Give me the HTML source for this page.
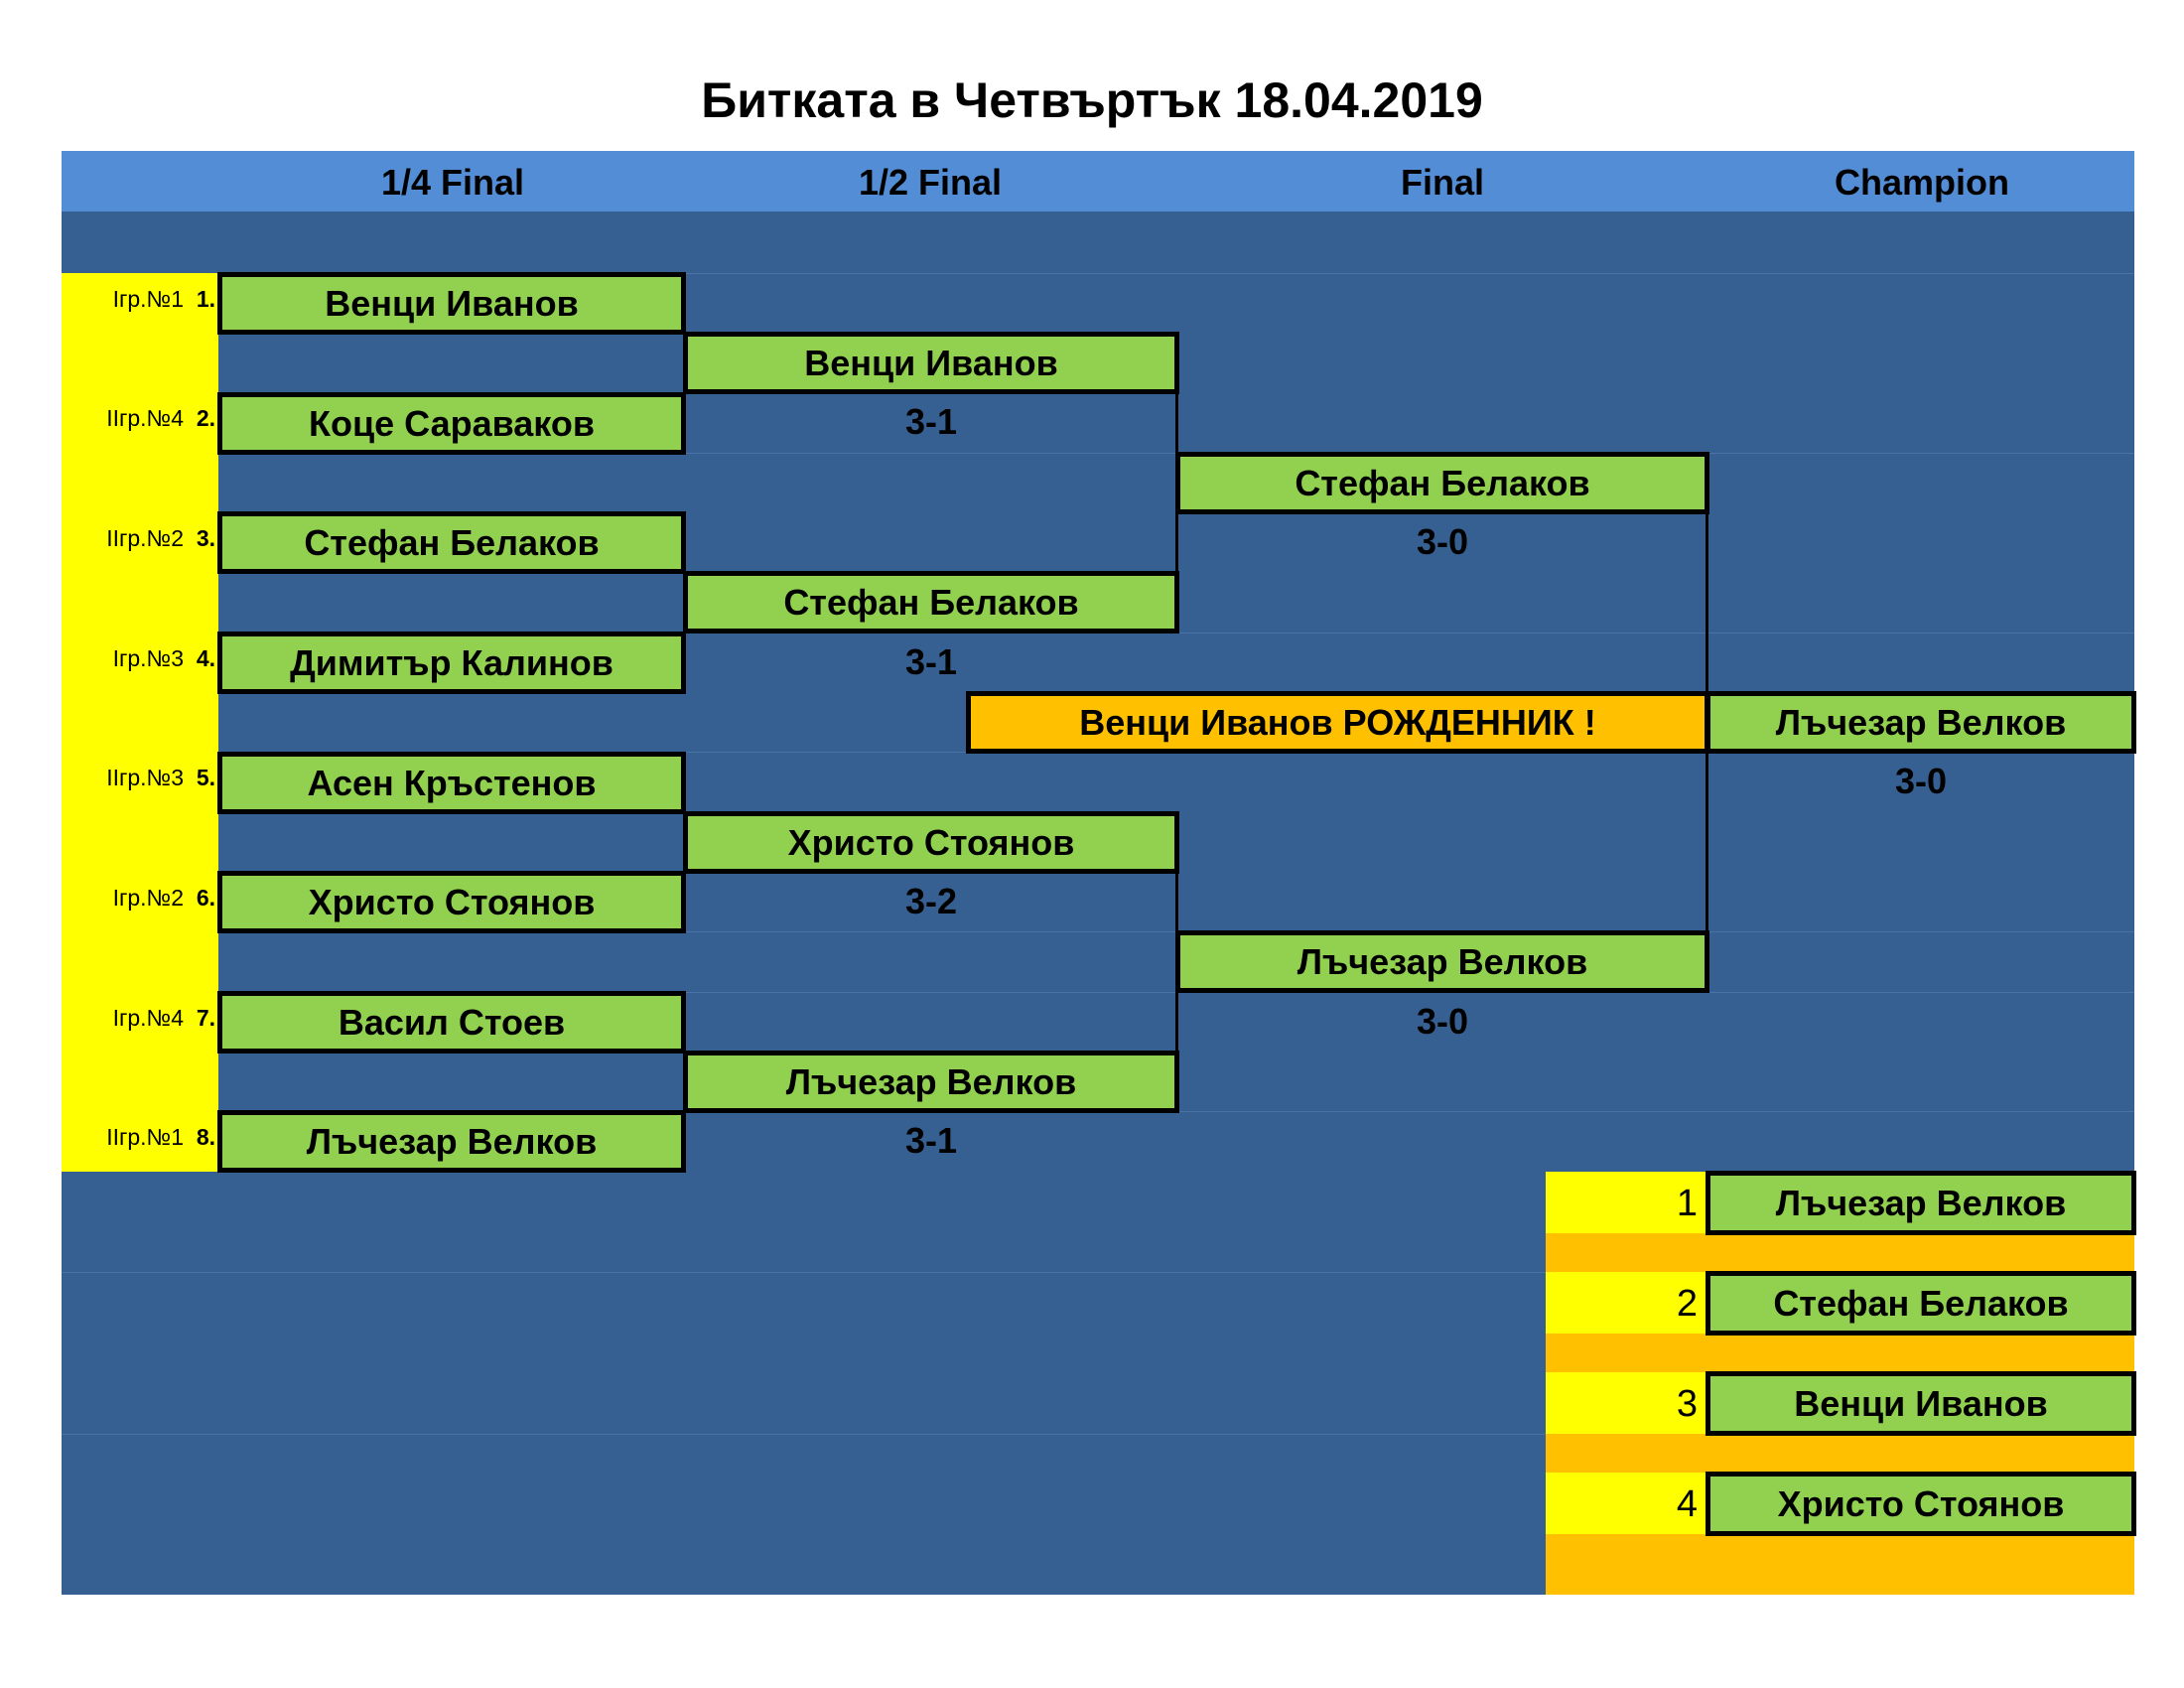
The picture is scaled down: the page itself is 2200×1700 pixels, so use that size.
<!DOCTYPE html>
<html><head><meta charset="utf-8"><style>
body{margin:0;width:2200px;height:1700px;background:#fff;position:relative;overflow:hidden;font-family:"Liberation Sans","DejaVu Sans",sans-serif}
div{position:absolute;box-sizing:border-box}
.t{left:0;width:2200px;top:72px;text-align:center;font-size:50px;font-weight:bold;color:#000}
.hb{left:62px;width:2088px;top:152px;height:61px;background:#538dd5}
.h{top:152px;height:61px;line-height:64px;font-size:36px;font-weight:bold;text-align:center;width:400px}
.bb{left:62px;width:2088px;top:213px;height:1393px;background:#366092}
.y{background:#ffff00}.o{background:#ffc000}
.b{background:#92d050;border:5px solid #000;height:63px;font-size:36px;font-weight:bold;text-align:center;line-height:53px;white-space:nowrap}
.s{font-size:36px;font-weight:bold;text-align:center;height:60px;line-height:60px}
.l{font-size:23px;text-align:right;width:155px;left:62px;height:60px;line-height:52px;white-space:nowrap}
.l b{font-weight:bold}
.v{background:#000;width:3px}
.n{font-size:38px;text-align:right;width:150px;left:1560px;height:62px;line-height:64px}
.g{left:62px;width:2088px;height:1px;background:#4a72a4}
</style></head><body>
<div class="t">Битката в Четвъртък 18.04.2019</div>
<div class="hb"></div>
<div class="h" style="left:256px">1/4 Final</div>
<div class="h" style="left:737px">1/2 Final</div>
<div class="h" style="left:1253px">Final</div>
<div class="h" style="left:1736px">Champion</div>
<div class="bb"></div>
<div class="g" style="top:275px"></div>
<div class="g" style="top:456px"></div>
<div class="g" style="top:637px"></div>
<div class="g" style="top:757px"></div>
<div class="g" style="top:938px"></div>
<div class="g" style="top:999px"></div>
<div class="g" style="top:1119px"></div>
<div class="g" style="top:1281px;width:1495px"></div>
<div class="g" style="top:1444px;width:1495px"></div>
<div class="y" style="left:62px;top:275px;width:158px;height:905px"></div>

<div class="l" style="top:275px">Iгр.№1&nbsp; <b>1.</b></div>
<div class="l" style="top:395px">IIгр.№4&nbsp; <b>2.</b></div>
<div class="l" style="top:516px">IIгр.№2&nbsp; <b>3.</b></div>
<div class="l" style="top:637px">Iгр.№3&nbsp; <b>4.</b></div>
<div class="l" style="top:757px">IIгр.№3&nbsp; <b>5.</b></div>
<div class="l" style="top:878px">Iгр.№2&nbsp; <b>6.</b></div>
<div class="l" style="top:999px">Iгр.№4&nbsp; <b>7.</b></div>
<div class="l" style="top:1119px">IIгр.№1&nbsp; <b>8.</b></div>

<div class="b" style="left:219px;width:472px;top:274px">Венци Иванов</div>
<div class="b" style="left:219px;width:472px;top:395px">Коце Сараваков</div>
<div class="b" style="left:219px;width:472px;top:515px">Стефан Белаков</div>
<div class="b" style="left:219px;width:472px;top:636px">Димитър Калинов</div>
<div class="b" style="left:219px;width:472px;top:757px">Асен Кръстенов</div>
<div class="b" style="left:219px;width:472px;top:877px">Христо Стоянов</div>
<div class="b" style="left:219px;width:472px;top:998px">Васил Стоев</div>
<div class="b" style="left:219px;width:472px;top:1118px">Лъчезар Велков</div>

<div class="v" style="left:1184px;top:395px;height:182px"></div>
<div class="v" style="left:1184px;top:878px;height:182px"></div>
<div class="v" style="left:1718px;top:516px;height:182px"></div>
<div class="v" style="left:1718px;top:757px;height:182px"></div>

<div class="b" style="left:688px;width:500px;top:334px">Венци Иванов</div>
<div class="s" style="left:688px;width:500px;top:395px">3-1</div>
<div class="b" style="left:688px;width:500px;top:575px">Стефан Белаков</div>
<div class="s" style="left:688px;width:500px;top:637px">3-1</div>
<div class="b" style="left:688px;width:500px;top:817px">Христо Стоянов</div>
<div class="s" style="left:688px;width:500px;top:878px">3-2</div>
<div class="b" style="left:688px;width:500px;top:1058px">Лъчезар Велков</div>
<div class="s" style="left:688px;width:500px;top:1119px">3-1</div>

<div class="b" style="left:1184px;width:538px;top:455px">Стефан Белаков</div>
<div class="s" style="left:1184px;width:538px;top:516px">3-0</div>
<div class="b" style="left:1184px;width:538px;top:937px">Лъчезар Велков</div>
<div class="s" style="left:1184px;width:538px;top:999px">3-0</div>

<div class="b" style="left:973px;width:749px;top:696px;background:#ffc000">Венци Иванов РОЖДЕННИК !</div>
<div class="b" style="left:1718px;width:434px;top:696px">Лъчезар Велков</div>
<div class="s" style="left:1718px;width:434px;top:757px">3-0</div>

<div class="o" style="left:1557px;top:1180px;width:593px;height:426px"></div>
<div class="y" style="left:1557px;top:1180px;width:163px;height:62px"></div>
<div class="y" style="left:1557px;top:1281px;width:163px;height:62px"></div>
<div class="y" style="left:1557px;top:1382px;width:163px;height:62px"></div>
<div class="y" style="left:1557px;top:1483px;width:163px;height:62px"></div>
<div class="n" style="top:1180px">1</div>
<div class="n" style="top:1281px">2</div>
<div class="n" style="top:1382px">3</div>
<div class="n" style="top:1483px">4</div>
<div class="b" style="left:1718px;width:434px;top:1179px;height:65px;line-height:55px">Лъчезар Велков</div>
<div class="b" style="left:1718px;width:434px;top:1280px;height:65px;line-height:55px">Стефан Белаков</div>
<div class="b" style="left:1718px;width:434px;top:1381px;height:65px;line-height:55px">Венци Иванов</div>
<div class="b" style="left:1718px;width:434px;top:1482px;height:65px;line-height:55px">Христо Стоянов</div>
</body></html>
